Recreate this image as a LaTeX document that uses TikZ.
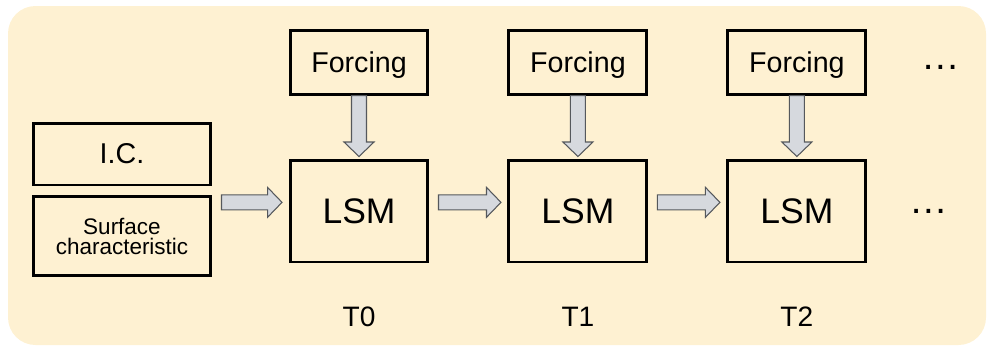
\documentclass[tikz,border=0pt]{standalone}
\usepackage{fontspec}
\setmainfont{Liberation Sans}
\usepackage{tikz}
\usetikzlibrary{positioning, calc, backgrounds}
\definecolor{bgpeach}{RGB}{254,241,210}
\definecolor{arrfill}{RGB}{214,217,222}
\definecolor{arrline}{RGB}{85,88,92}

\begin{document}
\begin{tikzpicture}[
    x=0.02cm, y=-0.02cm,
    node distance=1.56cm,
    box/.style={draw, line width=1.7pt, minimum width=2.76cm, inner sep=0pt, align=center},
    forcebox/.style={box, minimum height=1.28cm, text depth=0pt, font=\fontsize{16.3}{19}\selectfont},
    lsmbox/.style={box, minimum height=2.04cm, font=\fontsize{20.2}{23}\selectfont},
    inbox/.style={box, minimum width=3.56cm},
    tlabel/.style={inner sep=0pt, font=\fontsize{16}{19}\selectfont},
    dots/.style={inner sep=0pt, font=\fontsize{22}{26}\selectfont},
    gap a/.store in=\gapa, gap b/.store in=\gapb,
    blockarr/.style={draw=arrline, fill=arrfill, line width=0.6pt, gap a=0.18cm, gap b=0.13cm,
        to path={
            ($(\tikztostart)!\gapa!(\tikztotarget)!0.15cm!90:(\tikztotarget)$)
            -- ($(\tikztotarget)!\gapb+0.29cm!(\tikztostart)!0.15cm!-90:(\tikztostart)$)
            -- ($(\tikztotarget)!\gapb+0.29cm!(\tikztostart)!0.3cm!-90:(\tikztostart)$)
            -- ($(\tikztotarget)!\gapb!(\tikztostart)$)
            -- ($(\tikztotarget)!\gapb+0.29cm!(\tikztostart)!0.3cm!90:(\tikztostart)$)
            -- ($(\tikztotarget)!\gapb+0.29cm!(\tikztostart)!0.15cm!90:(\tikztostart)$)
            -- ($(\tikztostart)!\gapa!(\tikztotarget)!0.15cm!-90:(\tikztotarget)$)
            -- cycle}}
]
\useasboundingbox (0,0) rectangle (987,352);

% inputs
\node[inbox, minimum height=1.24cm, font=\fontsize{16.3}{19}\selectfont] (ic) at (122,154) {I.C.};
\node[inbox, minimum height=1.58cm, font=\fontsize{12.8}{11.5}\selectfont, below=0.18cm of ic] (sfc) {Surface\\characteristic};

% time steps
\node[lsmbox] (lsm0) at (359,211) {LSM};
\node[lsmbox, right=of lsm0] (lsm1) {LSM};
\node[lsmbox, right=of lsm1] (lsm2) {LSM};
\node[forcebox, above=1.26cm of lsm0] (frc0) {Forcing};
\node[forcebox, above=1.26cm of lsm1] (frc1) {Forcing};
\node[forcebox, above=1.26cm of lsm2] (frc2) {Forcing};
\node[tlabel, below=0.86cm of lsm0] (t0) {T0};
\node[tlabel, below=0.86cm of lsm1] (t1) {T1};
\node[tlabel, below=0.86cm of lsm2] (t2) {T2};
\node[dots, right=1.08cm of frc2, yshift=-0.1cm] (fdots) {…};
\node[dots, right=0.83cm of lsm2] (ldots) {…};

\draw[blockarr] (ic.east |- lsm0.173) to (lsm0.173);
\draw[blockarr] (lsm0.7) to (lsm1.173);
\draw[blockarr] (lsm1.7) to (lsm2.173);
\foreach \i in {0,1,2}
    \draw[blockarr, gap a=0pt, gap b=0.04cm] (frc\i.south) to (lsm\i.north);

\begin{scope}[on background layer]
\fill[bgpeach, rounded corners=0.55cm] (8,6) rectangle (986,345);
\end{scope}
\end{tikzpicture}
\end{document}
